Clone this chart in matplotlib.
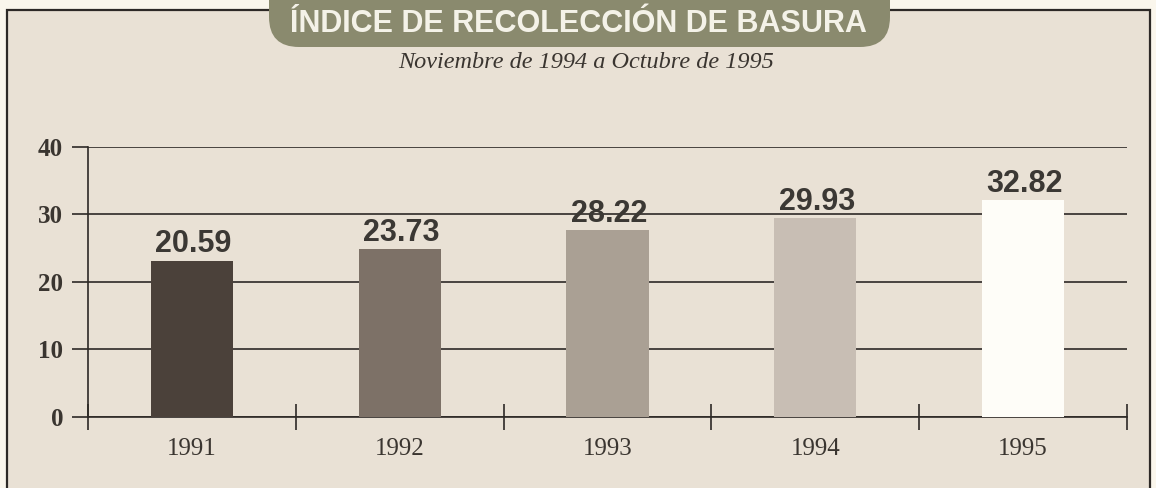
import matplotlib
matplotlib.use("Agg")
import matplotlib.pyplot as plt
from matplotlib.patches import Rectangle, FancyBboxPatch
from matplotlib.transforms import IdentityTransform
from matplotlib.ticker import FixedLocator

#-----------------------------#
#            Data
#-----------------------------#

years = ["1991", "1992", "1993", "1994", "1995"]
# printed values above each bar
value_labels = ["20.59", "23.73", "28.22", "29.93", "32.82"]
# bar heights as drawn in the original graphic
bar_heights = [23.1, 24.8, 27.6, 29.4, 32.1]
bar_colors = ["#4b413a", "#7d7167", "#aaa094", "#c8beb4", "#fefdf8"]

title = "ÍNDICE DE RECOLECCIÓN DE BASURA"
subtitle = "Noviembre de 1994 a Octubre de 1995"

W, H = 1156, 488
ink = "#2d2926"

#-----------------------------#
#        Figure / frame
#-----------------------------#

fig = plt.figure(figsize=(W / 100, H / 100), dpi=100)
fig.patch.set_facecolor("#faf6ec")

# page frame (pixel coords, origin bottom-left)
frame = Rectangle((7, -20), 1150 - 7, (H - 10) + 20, transform=IdentityTransform(),
                  facecolor="#e9e1d5", edgecolor=ink, lw=1.6, zorder=-2)
fig.patches.append(frame)

# rounded title box at the top edge
tbox = FancyBboxPatch((269, H - 47), 890 - 269, 90,
                      boxstyle="round,pad=0,rounding_size=30",
                      transform=IdentityTransform(),
                      facecolor="#8a8a6e", edgecolor="none", zorder=2)
fig.patches.append(tbox)
fig.text(578 / W, 1 - 32 / H, title, ha="center", va="baseline",
         family="Liberation Sans", weight="bold", size=22,
         color="#f4f2e8", zorder=3)

fig.text(586 / W, 1 - 62 / H, subtitle, ha="center", va="center",
         family="Liberation Serif", style="italic", size=17.5, color="#3a3530")

#-----------------------------#
#            Bars
#-----------------------------#

ax = fig.add_axes([88 / W, (H - 416.7) / H, 1039 / W, 270 / H])
ax.patch.set_alpha(0)
ax.set_xlim(0, len(years))
ax.set_ylim(0, 40)

x = [i + 0.5 for i in range(len(years))]
bars = ax.bar(x, bar_heights, width=0.395, color=bar_colors, zorder=3)

for rect, lab in zip(bars, value_labels):
    ax.annotate(lab, (rect.get_x() + rect.get_width() / 2, rect.get_height()),
                xytext=(1, 6), textcoords="offset points",
                ha="center", va="baseline", family="Liberation Sans",
                weight="bold", size=22, color="#3b3834", zorder=4)

# grid + axes styling
ax.set_axisbelow(True)
ax.set_yticks([0, 10, 20, 30, 40])
ax.grid(axis="y", color=ink, lw=1.2)
ax.tick_params(axis="y", direction="out", length=11.5, width=1.2, color=ink,
               pad=6.5, labelsize=18, labelcolor="#3a3530")
for t in ax.get_yticklabels():
    t.set_family("Liberation Serif")
    t.set_weight("bold")

ax.set_xticks(x)
ax.set_xticklabels(years, family="Liberation Serif", size=18, color="#3a3530")
ax.xaxis.set_minor_locator(FixedLocator(range(len(years) + 1)))
ax.tick_params(axis="x", which="major", length=0, pad=15)
ax.tick_params(axis="x", which="minor", direction="inout", length=19, width=1.2, color=ink)

for s in ["top", "right"]:
    ax.spines[s].set_visible(False)
for s in ["left", "bottom"]:
    ax.spines[s].set_color(ink)
    ax.spines[s].set_linewidth(1.2)

fig.savefig("out.png", dpi=100, facecolor=fig.get_facecolor())
